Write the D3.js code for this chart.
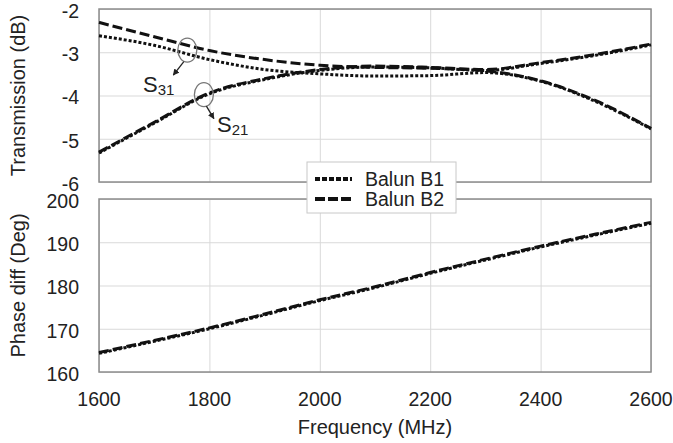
<!DOCTYPE html>
<html>
<head>
  <meta charset="utf-8">
  <script src="https://d3js.org/d3.v7.min.js"></script>
  <style>
    body { margin: 0; background: #fff; }
    svg text { font-family: "Liberation Sans", Arial, sans-serif; fill: #222; }
    .grid line { stroke: #d9d9d9; stroke-width: 1; }
    .grid .domain { display: none; }
  </style>
</head>
<body>
<svg id="chart" width="673" height="443"></svg>
<script>
// frequency points (MHz)
var freq = [1600, 1700, 1800, 1900, 2000, 2100, 2200, 2300, 2400, 2500, 2600];

// transmission (dB)
var s31B1 = [-2.62, -2.84, -3.17, -3.40, -3.50, -3.55, -3.54, -3.47, -3.67, -4.14, -4.77];
var s31B2 = [-2.31, -2.64, -2.96, -3.17, -3.30, -3.35, -3.37, -3.43, -3.66, -4.12, -4.76];
var s21B1 = [-5.33, -4.64, -3.96, -3.63, -3.42, -3.34, -3.36, -3.42, -3.26, -3.07, -2.83];
var s21B2 = [-5.31, -4.62, -3.94, -3.61, -3.40, -3.32, -3.35, -3.40, -3.24, -3.05, -2.81];

// phase difference (deg)
var phaseB1 = [164.3, 167.1, 170.0, 173.2, 176.5, 179.5, 182.8, 185.9, 188.9, 191.7, 194.4];
var phaseB2 = [164.5, 167.3, 170.2, 173.4, 176.7, 179.7, 183.0, 186.1, 189.1, 191.9, 194.6];

var xTicks = [1600, 1800, 2000, 2200, 2400, 2600];
var topTicks = [-6, -5, -4, -3, -2];
var botTicks = [160, 170, 180, 190, 200];
var legendNames = ["Balun B1", "Balun B2"];

var svg = d3.select("#chart");

var left = 99, right = 651;
var x = d3.scaleLinear().domain([1600, 2600]).range([left, right]);
var yTop = d3.scaleLinear().domain([-6, -2]).range([182, 9]);
var yBot = d3.scaleLinear().domain([160, 200]).range([372, 199]);

var dotted = "3,2", dashed = "10,4";

function panel(y, ticks) {
  var r = y.range();
  // gridlines
  svg.append("g").attr("class", "grid")
    .attr("transform", "translate(0," + r[0] + ")")
    .call(d3.axisBottom(x).tickValues(xTicks).tickSize(-(r[0] - r[1])).tickFormat(""));
  svg.append("g").attr("class", "grid")
    .attr("transform", "translate(" + left + ",0)")
    .call(d3.axisLeft(y).tickValues(ticks).tickSize(-(right - left)).tickFormat(""));
  // frame
  svg.append("rect")
    .attr("x", left).attr("y", r[1])
    .attr("width", right - left).attr("height", r[0] - r[1])
    .attr("fill", "none").attr("stroke", "#8c8c8c").attr("stroke-width", 1.5);
  // y tick labels
  svg.append("g").selectAll("text").data(ticks).enter().append("text")
    .attr("x", 79).attr("y", function(d) { return y(d); })
    .attr("dy", "0.45em")
    .attr("text-anchor", "end")
    .style("font-size", "19.5px")
    .text(function(d) { return d; });
}

panel(yTop, topTicks);
panel(yBot, botTicks);

function drawLine(vals, y, dash) {
  var line = d3.line()
    .x(function(d, i) { return x(freq[i]); })
    .y(function(d) { return y(d); })
    .curve(d3.curveMonotoneX);
  svg.append("path")
    .attr("d", line(vals))
    .attr("fill", "none")
    .attr("stroke", "#111")
    .attr("stroke-width", 3)
    .attr("stroke-dasharray", dash);
}

drawLine(s31B1, yTop, dotted);
drawLine(s21B1, yTop, dotted);
drawLine(s31B2, yTop, dashed);
drawLine(s21B2, yTop, dashed);
drawLine(phaseB1, yBot, dotted);
drawLine(phaseB2, yBot, dashed);

// x tick labels
svg.append("g").selectAll("text").data(xTicks).enter().append("text")
  .attr("x", function(d) { return x(d); }).attr("y", 406)
  .attr("text-anchor", "middle")
  .style("font-size", "19.5px")
  .text(function(d) { return d; });

// axis titles
svg.append("text")
  .attr("x", (left + right) / 2).attr("y", 434)
  .attr("text-anchor", "middle").style("font-size", "20px")
  .text("Frequency (MHz)");
svg.append("text")
  .attr("transform", "translate(25," + (yTop(-4)) + ") rotate(-90)")
  .attr("text-anchor", "middle").style("font-size", "20px")
  .text("Transmission (dB)");
svg.append("text")
  .attr("transform", "translate(25," + (yBot(180)) + ") rotate(-90)")
  .attr("text-anchor", "middle").style("font-size", "20px")
  .text("Phase diff (Deg)");

// annotations
svg.append("defs").append("marker")
  .attr("id", "arrow").attr("viewBox", "0 0 10 10")
  .attr("refX", 9).attr("refY", 5)
  .attr("markerWidth", 5).attr("markerHeight", 5)
  .attr("orient", "auto")
  .append("path").attr("d", "M0,0L10,5L0,10Z").attr("fill", "#222");

var notes = [
  {f: 1760, v: -2.95, dx: -14, dy: 25, label: "31", tx: 143, ty: 92},
  {f: 1790, v: -3.98, dx: 10, dy: 24, label: "21", tx: 217, ty: 132}
];
notes.forEach(function(n) {
  var cx = x(n.f), cy = yTop(n.v);
  svg.append("ellipse")
    .attr("cx", cx).attr("cy", cy).attr("rx", 9.5).attr("ry", 12)
    .attr("fill", "none").attr("stroke", "#777").attr("stroke-width", 1.3);
  svg.append("line")
    .attr("x1", cx + n.dx * 0.25).attr("y1", cy + 11.5)
    .attr("x2", cx + n.dx).attr("y2", cy + n.dy)
    .attr("stroke", "#222").attr("stroke-width", 1.3)
    .attr("marker-end", "url(#arrow)");
  var t = svg.append("text").attr("x", n.tx).attr("y", n.ty).style("font-size", "22px");
  t.append("tspan").text("S");
  t.append("tspan").attr("dy", 3).style("font-size", "15px").text(n.label);
});

// legend
var lg = svg.append("g");
lg.append("rect")
  .attr("x", 307).attr("y", 162).attr("width", 149).attr("height", 51)
  .attr("fill", "#fff").attr("stroke", "#c8c8c8").attr("stroke-width", 1);
legendNames.forEach(function(name, i) {
  var ly = 179 + i * 20;
  lg.append("line")
    .attr("x1", 315).attr("x2", 352).attr("y1", ly).attr("y2", ly)
    .attr("stroke", "#111").attr("stroke-width", 4)
    .attr("stroke-dasharray", i === 0 ? "5,2" : "10,3");
  lg.append("text")
    .attr("x", 365).attr("y", ly + 7)
    .style("font-size", "19.5px")
    .text(name);
});
</script>
</body>
</html>
